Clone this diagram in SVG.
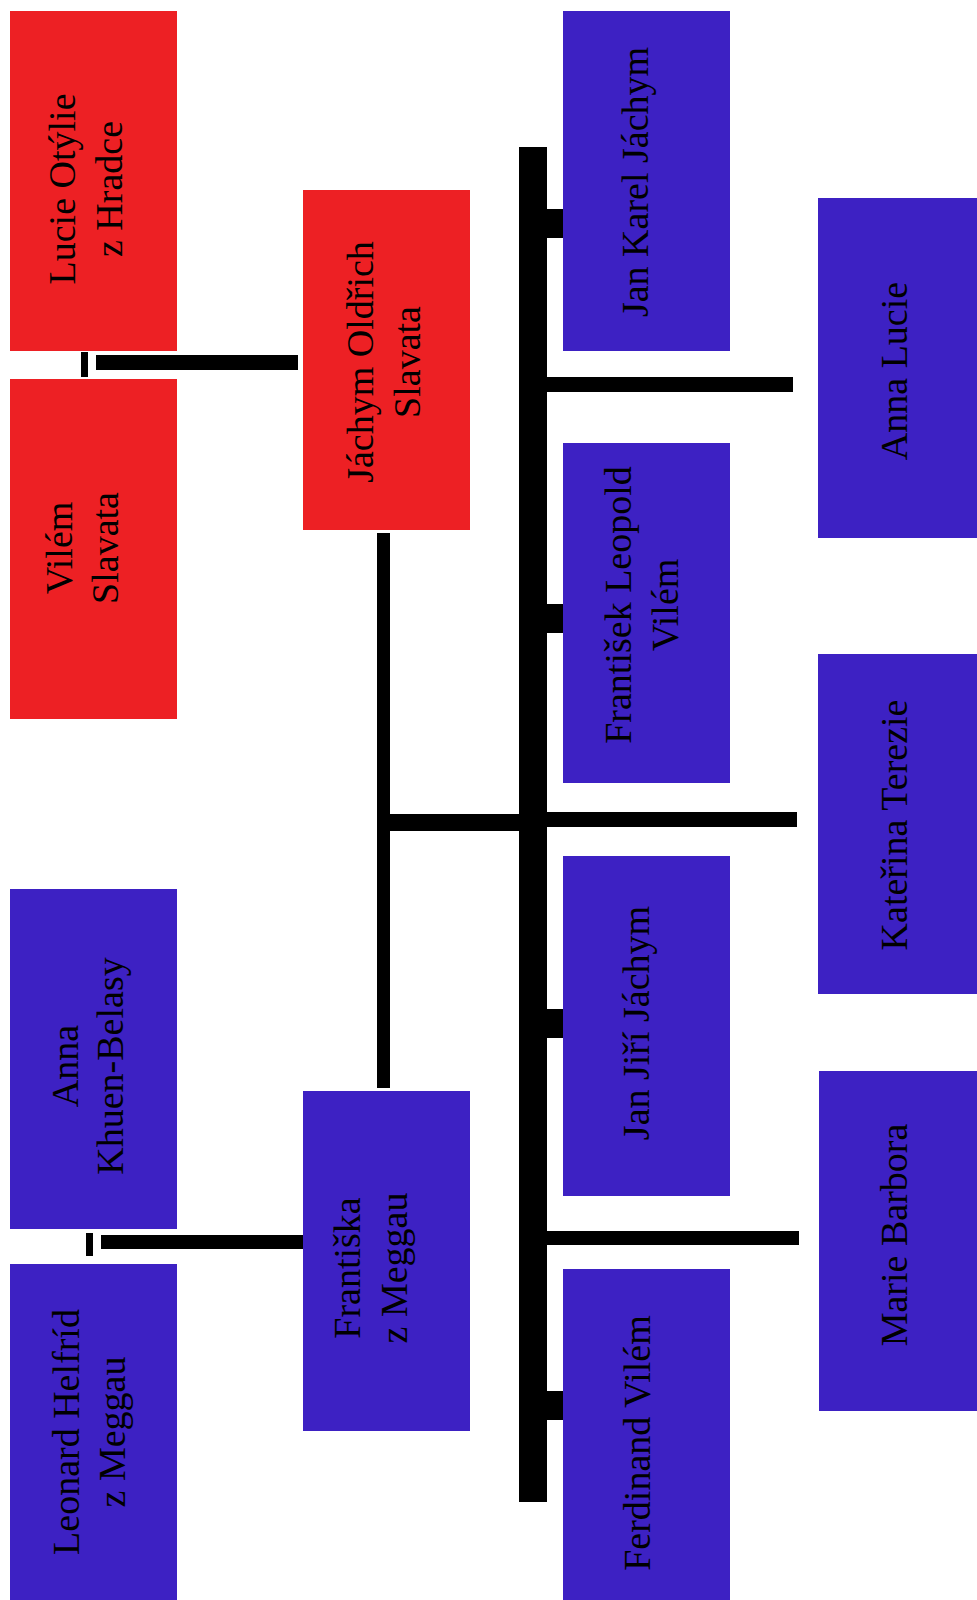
<svg xmlns="http://www.w3.org/2000/svg" width="977" height="1600" viewBox="0 0 977 1600">
<style>
.red{fill:#ED2024}
.blue{fill:#3D21C3}
.ln{fill:#000}
text{font-family:"Liberation Serif","Times New Roman",serif;font-size:38px;fill:#000;text-anchor:middle}
</style>
<rect width="977" height="1600" fill="#fff"/>
<g id="connectors">
<rect class="ln" x="81" y="352" width="7" height="25"/>
<rect class="ln" x="96" y="355" width="202" height="15"/>
<rect class="ln" x="86" y="1233" width="7" height="23"/>
<rect class="ln" x="101" y="1235" width="202" height="14"/>
<rect class="ln" x="377" y="533" width="13" height="555"/>
<rect class="ln" x="377" y="814" width="142" height="17"/>
<rect class="ln" x="519" y="147" width="28" height="1355"/>
<rect class="ln" x="547" y="377" width="246" height="15"/>
<rect class="ln" x="547" y="812" width="250" height="15"/>
<rect class="ln" x="547" y="1231" width="252" height="14"/>
<rect class="ln" x="547" y="209" width="16" height="29"/>
<rect class="ln" x="547" y="604" width="16" height="29"/>
<rect class="ln" x="547" y="1009" width="16" height="29"/>
<rect class="ln" x="547" y="1391" width="16" height="29"/>
</g>
<g id="lucie">
<rect class="red" x="10" y="11" width="167" height="340"/>
<text transform="translate(75,189) rotate(-90)">Lucie Otýlie<tspan x="0" dy="47">z Hradce</tspan></text>
</g>
<g id="vilem">
<rect class="red" x="10" y="379" width="167" height="340"/>
<text transform="translate(72,548) rotate(-90)">Vilém<tspan x="0" dy="46">Slavata</tspan></text>
</g>
<g id="jachym">
<rect class="red" x="303" y="190" width="167" height="340"/>
<text transform="translate(373,362) rotate(-90)">Jáchym Oldřich<tspan x="0" dy="47">Slavata</tspan></text>
</g>
<g id="anna-khuen">
<rect class="blue" x="10" y="889" width="167" height="340"/>
<text transform="translate(78,1066) rotate(-90)">Anna<tspan x="0" dy="45">Khuen-Belasy</tspan></text>
</g>
<g id="leonard">
<rect class="blue" x="10" y="1264" width="167" height="340"/>
<text transform="translate(79,1432) rotate(-90)">Leonard Helfríd<tspan x="0" dy="46">z Meggau</tspan></text>
</g>
<g id="frantiska">
<rect class="blue" x="303" y="1091" width="167" height="340"/>
<text transform="translate(360,1268) rotate(-90)">Františka<tspan x="0" dy="47">z Meggau</tspan></text>
</g>
<g id="jan-karel">
<rect class="blue" x="563" y="11" width="167" height="340"/>
<text transform="translate(648,182) rotate(-90)">Jan Karel Jáchym</text>
</g>
<g id="frantisek">
<rect class="blue" x="563" y="443" width="167" height="340"/>
<text transform="translate(631,605) rotate(-90)">František Leopold<tspan x="0" dy="47">Vilém</tspan></text>
</g>
<g id="jan-jiri">
<rect class="blue" x="563" y="856" width="167" height="340"/>
<text transform="translate(649,1023) rotate(-90)">Jan Jiří Jáchym</text>
</g>
<g id="ferdinand">
<rect class="blue" x="563" y="1269" width="167" height="340"/>
<text transform="translate(650,1443) rotate(-90)">Ferdinand Vilém</text>
</g>
<g id="anna-lucie">
<rect class="blue" x="818" y="198" width="167" height="340"/>
<text transform="translate(907,371) rotate(-90)">Anna Lucie</text>
</g>
<g id="katerina">
<rect class="blue" x="818" y="654" width="167" height="340"/>
<text transform="translate(907,825) rotate(-90)">Kateřina Terezie</text>
</g>
<g id="marie">
<rect class="blue" x="819" y="1071" width="167" height="340"/>
<text transform="translate(907,1235) rotate(-90)">Marie Barbora</text>
</g>
</svg>
